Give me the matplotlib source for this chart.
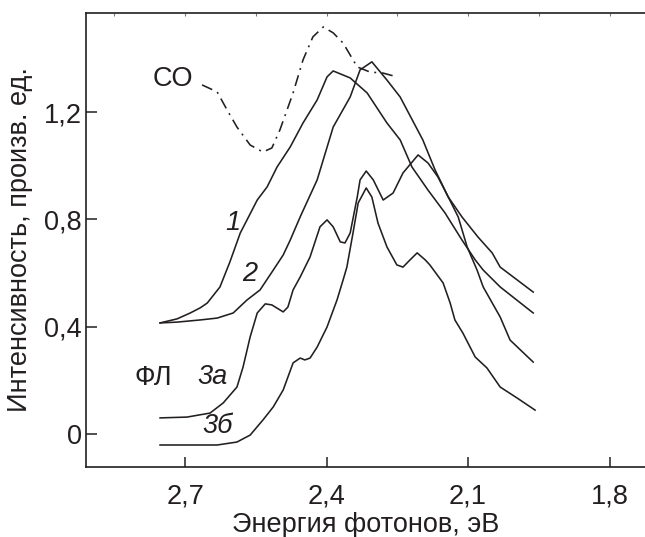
import numpy as np
import matplotlib
matplotlib.use('Agg')
import matplotlib.pyplot as plt

plt.rcParams['font.family'] = ['Liberation Sans', 'DejaVu Sans']

ink = '#231f20'

# curve 1
e1 = [2.753, 2.717, 2.689, 2.668, 2.653, 2.626, 2.605, 2.583, 2.547, 2.526, 2.505, 2.477, 2.450, 2.420,
      2.399, 2.386, 2.350, 2.314, 2.272, 2.244, 2.219, 2.185, 2.149, 2.113, 2.085, 2.068, 2.032, 1.962]
i1 = [0.414, 0.429, 0.451, 0.470, 0.488, 0.548, 0.641, 0.749, 0.872, 0.921, 0.995, 1.070, 1.159, 1.245,
      1.331, 1.353, 1.327, 1.271, 1.159, 1.096, 0.995, 0.909, 0.824, 0.723, 0.649, 0.611, 0.548, 0.451]

# curve 2
e2 = [2.753, 2.717, 2.668, 2.632, 2.598, 2.569, 2.541, 2.513, 2.492, 2.477, 2.456, 2.420, 2.386,
      2.350, 2.329, 2.304, 2.272, 2.244, 2.196, 2.170, 2.142, 2.113, 2.079, 2.049, 2.032, 1.962]
i2 = [0.414, 0.417, 0.425, 0.432, 0.451, 0.499, 0.537, 0.611, 0.667, 0.723, 0.809, 0.947, 1.144,
      1.256, 1.357, 1.387, 1.319, 1.256, 1.096, 0.984, 0.883, 0.809, 0.734, 0.675, 0.622, 0.529]

# curve 3a
e3a = [2.753, 2.696, 2.647, 2.619, 2.590, 2.577, 2.562, 2.547, 2.530, 2.516, 2.492, 2.482, 2.471,
       2.456, 2.435, 2.414, 2.399, 2.386, 2.371, 2.361, 2.350, 2.335, 2.329, 2.316, 2.301, 2.280,
       2.259, 2.238, 2.206, 2.185, 2.164, 2.142, 2.121, 2.102, 2.081, 2.068, 2.032, 2.011, 1.962]
i3a = [0.060, 0.063, 0.078, 0.116, 0.175, 0.250, 0.362, 0.451, 0.485, 0.481, 0.455, 0.473, 0.537,
       0.585, 0.660, 0.772, 0.798, 0.772, 0.716, 0.712, 0.749, 0.883, 0.947, 0.980, 0.947, 0.872,
       0.898, 0.973, 1.040, 1.010, 0.958, 0.883, 0.809, 0.697, 0.611, 0.548, 0.436, 0.350, 0.268]

# curve 3b
e3b = [2.753, 2.632, 2.590, 2.562, 2.535, 2.513, 2.492, 2.482, 2.471, 2.456, 2.446, 2.435, 2.420,
       2.399, 2.378, 2.365, 2.357, 2.344, 2.333, 2.316, 2.304, 2.291, 2.272, 2.251, 2.238, 2.223,
       2.208, 2.191, 2.181, 2.153, 2.138, 2.128, 2.111, 2.085, 2.060, 2.032, 1.996, 1.958]
i3b = [-0.041, -0.041, -0.030, -0.004, 0.052, 0.101, 0.164, 0.212, 0.265, 0.283, 0.276, 0.283, 0.324,
       0.399, 0.499, 0.574, 0.622, 0.749, 0.861, 0.917, 0.883, 0.786, 0.697, 0.630, 0.622, 0.649,
       0.675, 0.649, 0.630, 0.563, 0.488, 0.425, 0.376, 0.287, 0.246, 0.175, 0.134, 0.089]

# CO (dash-dot)
eco = [2.664, 2.632, 2.611, 2.590, 2.562, 2.535, 2.516, 2.499, 2.471, 2.450, 2.429, 2.407, 2.386,
       2.365, 2.335, 2.308, 2.280, 2.251]
ico = [1.301, 1.275, 1.208, 1.144, 1.077, 1.051, 1.066, 1.133, 1.271, 1.394, 1.480, 1.517, 1.495,
       1.457, 1.368, 1.349, 1.345, 1.331]

xticks = [2.7, 2.4, 2.1, 1.8]
xticklabels = ['2,7', '2,4', '2,1', '1,8']
yticks = [0, 0.4, 0.8, 1.2]
yticklabels = ['0', '0,4', '0,8', '1,2']
top_ticks = [2.85, 2.7, 2.55, 2.4, 2.25, 2.1, 1.95, 1.8]

fs = 19.5

fig = plt.figure(figsize=(6.45, 5.37), dpi=100)
ax = fig.add_axes([86/645, 70/537, 1 - 86/645, 454/537])

for e, v in [(e1, i1), (e2, i2), (e3a, i3a), (e3b, i3b)]:
    ax.plot(e, v, color=ink, lw=1.15, solid_joinstyle='round')
ax.plot(eco, ico, color=ink, lw=1.15, linestyle=(0, (7, 3.5, 1.2, 3.5)))

ax.set_xlim(2.91, 1.725)
ax.set_ylim(-0.123, 1.569)

ax.set_xticks(xticks)
ax.set_xticklabels(xticklabels, fontsize=fs, color=ink)
ax.set_yticks(yticks)
ax.set_yticklabels(yticklabels, fontsize=fs, color=ink)
ax.tick_params(axis='x', direction='in', length=7, width=1.1, color=ink, pad=12)
ax.tick_params(axis='y', direction='in', length=8, width=1.1, color=ink, pad=3)

ax.spines['right'].set_visible(False)
for s in ['left', 'bottom', 'top']:
    ax.spines[s].set_linewidth(1.2)
    ax.spines[s].set_color(ink)

top = ax.secondary_xaxis('top')
top.set_xticks(top_ticks)
top.set_xticklabels([])
top.tick_params(direction='in', length=2.5, width=0.8, color='#777777')
top.spines['top'].set_visible(False)

ax.set_xlabel('Энергия фотонов, эВ', fontsize=fs, color=ink, labelpad=2)
ax.set_ylabel('Интенсивность, произв. ед.', fontsize=fs, color=ink, labelpad=8)

ax.text(2.725, 1.323, 'CO', fontsize=fs, color=ink, ha='center', va='center')
ax.text(2.598, 0.786, '1', fontsize=fs, color=ink, ha='center', va='center', style='italic')
ax.text(2.562, 0.596, '2', fontsize=fs, color=ink, ha='center', va='center', style='italic')
ax.text(2.768, 0.209, 'ФЛ', fontsize=fs, color=ink, ha='center', va='center')
ax.text(2.641, 0.212, '3а', fontsize=fs, color=ink, ha='center', va='center', style='italic')
ax.text(2.632, 0.03, '3б', fontsize=fs, color=ink, ha='center', va='center', style='italic')

fig.savefig('out.png', dpi=100)
